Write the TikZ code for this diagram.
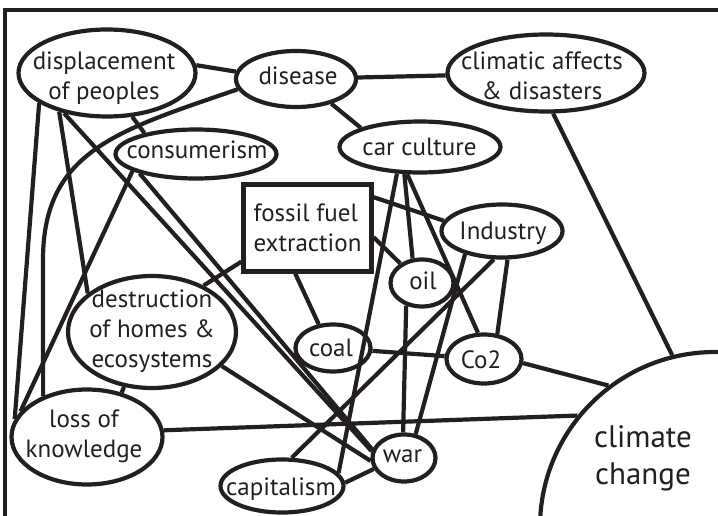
\documentclass[tikz,border=0pt]{standalone}
\usepackage{fontspec}
\setmainfont{PT Sans}
\usetikzlibrary{shapes.geometric}
\definecolor{ink}{RGB}{35,31,32}
\begin{document}
\begin{tikzpicture}[x=1pt,y=-1pt,color=ink,line width=4.2pt,
  oval/.style={ellipse,draw,inner sep=0pt},
  word/.style={font=\fontsize{25}{30}\selectfont,align=center,inner sep=0pt},
  bigword/.style={font=\fontsize{31}{37}\selectfont,align=center,inner sep=0pt}]
\useasboundingbox (0,0) rectangle (718,516);

% frame
\draw (5,540) -- (5,10) -- (740,10);

% ovals
\node[oval,minimum width=177pt,minimum height=87pt] (disp) at (107,73) {};
\node[word] (t-disp) at (104,78) {displacement\\of peoples};
\node[oval,minimum width=120pt,minimum height=56pt] (dis) at (296,79) {};
\node[word] (t-dis) at (298,76) {disease};
\node[oval,minimum width=197pt,minimum height=77pt] (cli) at (546,73) {};
\node[word] (t-cli) at (542,75.5) {climatic affects\\\& disasters};
\node[oval,minimum width=161pt,minimum height=49pt] (con) at (196,154) {};
\node[word] (t-con) at (197,150) {consumerism};
\node[oval,minimum width=161pt,minimum height=51pt] (car) at (420,147) {};
\node[word] (t-car) at (419.5,147) {car culture};
\node[draw,rectangle,minimum width=128pt,minimum height=87pt,inner sep=0pt,
  font=\fontsize{25}{30}\selectfont,align=left] (box) at (307.5,228) {fossil fuel\\extraction};
\node[oval,minimum width=121pt,minimum height=53pt] (ind) at (502,231) {};
\node[word] (t-ind) at (503,233.5) {Industry};
\node[oval,minimum width=63pt,minimum height=47pt] (oil) at (422,283) {};
\node[word] (t-oil) at (423,281) {oil};
\node[oval,minimum width=168pt,minimum height=112pt] (des) at (152,332) {};
\node[word] (t-des) at (152,331.5) {destruction\\of homes \&\\ecosystems};
\node[oval,minimum width=75pt,minimum height=47pt] (coal) at (333,348) {};
\node[word] (t-coal) at (331,348) {coal};
\node[oval,minimum width=75pt,minimum height=49pt] (co2) at (484,359) {};
\node[word] (t-co2) at (481,360) {Co2};
\node[oval,minimum width=151pt,minimum height=95pt] (lok) at (87,437) {};
\node[word] (t-lok) at (84,436.5) {loss of\\knowledge};
\node[oval,minimum width=123pt,minimum height=53pt] (cap) at (282,486) {};
\node[word] (t-cap) at (281,489.5) {capitalism};
\node[oval,minimum width=63pt,minimum height=47pt] (war) at (404,458) {};
\node[word] (t-war) at (402.5,456.5) {war};
\node[circle,draw,minimum size=350pt,inner sep=0pt] (cc) at (715,527) {};
\node[bigword] (t-cc) at (643,458) {climate\\change};

% links
\draw (disp.5) -- (dis.173);
\draw (disp.-60) -- (con.158);
\draw (disp.204) -- (lok.166);
\draw (disp.-141) -- (des.149);
\draw (disp.-137) -- (war.168);
\draw (con.-161) -- (war.165);
\draw (con.-165) -- (lok.159);
\coordinate (bend) at (43,260);
\draw (dis.190) .. controls (120,130) and (43,150) .. (bend) -- (lok.137);
\draw (dis) -- (cli);
\draw (dis.-35) -- (car.162);
\draw (cli.-80) -- (cc.104);
\draw (car.-131) -- (cap.13);
\draw (car.-120) -- (oil.111);
\draw (car.-115) -- (co2.103);
\draw (box.207) -- (des.42);
\draw (box.-105) -- (coal.121);
\draw (box.25) -- (ind.170);
\draw (box.-8) -- (oil.138);
\draw (ind.-148) -- (war.64);
\draw (ind.-106) -- (cap.71);
\draw (ind.-79) -- (co2.62);
\draw (oil.-125) -- (war.92);
\draw (coal) -- (co2);
\draw (co2.-6) -- (cc.127);
\draw (lok.5) -- (cc.141);
\draw (cap.3) -- (war.200);
\draw (des.-26) -- (war.185);
\draw (des.-117) -- (lok.52);
\end{tikzpicture}
\end{document}
